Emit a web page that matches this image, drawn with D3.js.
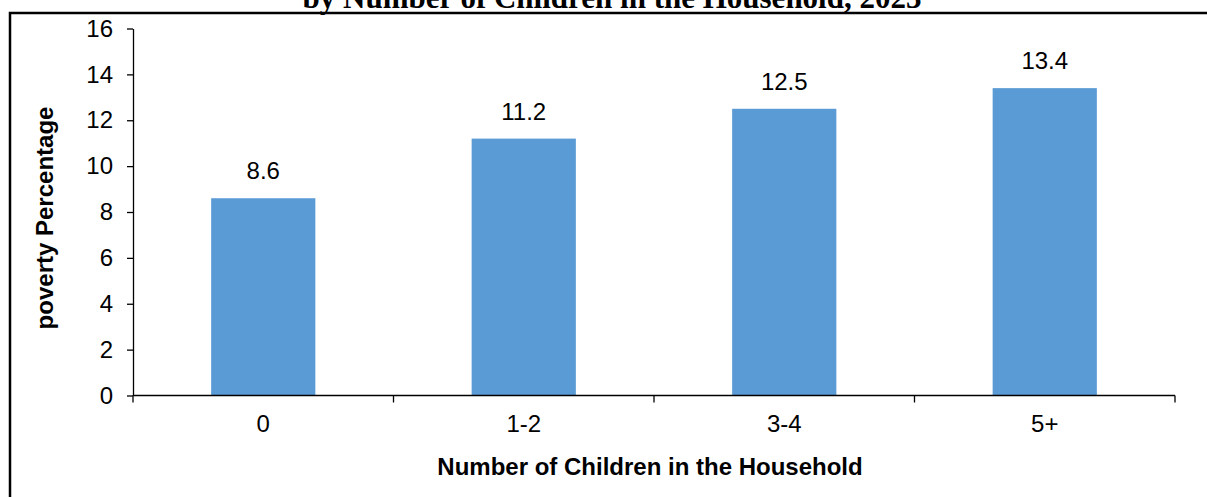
<!DOCTYPE html>
<html>
<head>
<meta charset="utf-8">
<script src="https://cdn.jsdelivr.net/npm/d3@7/dist/d3.min.js"></script>
<style>
  html, body { margin: 0; padding: 0; background: #fff; }
  svg { display: block; }
</style>
</head>
<body>
<svg id="chart" width="1207" height="497"></svg>
<script>
const categories = ["0", "1-2", "3-4", "5+"];
const values = [8.6, 11.2, 12.5, 13.4];
const yTicks = [0, 2, 4, 6, 8, 10, 12, 14, 16];
const title = "by Number of Children in the Household, 2023";
const xTitle = "Number of Children in the Household";
const yTitle = "poverty Percentage";

const svg = d3.select("#chart");
const W = 1207, H = 497;
const plot = { left: 133, right: 1175, top: 28.5, bottom: 395.5 };

// frame border
svg.append("rect")
  .attr("x", 10).attr("y", 13)
  .attr("width", W + 20).attr("height", H + 20)
  .attr("fill", "none").attr("stroke", "#000").attr("stroke-width", 2.5);

// title (cut off at top, as in the reference)
svg.append("text")
  .attr("x", 612).attr("y", 8)
  .attr("text-anchor", "middle")
  .attr("font-family", "'Liberation Serif', 'Times New Roman', serif")
  .attr("font-weight", "bold")
  .attr("font-size", 31)
  .text(title);

const x = d3.scaleBand().domain(categories).range([plot.left, plot.right]).paddingInner(0).paddingOuter(0);
const y = d3.scaleLinear().domain([0, 16]).range([plot.bottom, plot.top]);

const font = "'Liberation Sans', Arial, sans-serif";
const fs = 24;

// bars
const barW = x.bandwidth() * 0.4;
svg.append("g").selectAll("rect").data(values).join("rect")
  .attr("x", (d, i) => x(categories[i]) + (x.bandwidth() - barW) / 2)
  .attr("y", d => y(d))
  .attr("width", barW)
  .attr("height", d => y(0) - y(d))
  .attr("fill", "#5B9BD5");

// value labels
svg.append("g").selectAll("text").data(values).join("text")
  .attr("x", (d, i) => x(categories[i]) + x.bandwidth() / 2)
  .attr("y", d => y(d) - 19)
  .attr("text-anchor", "middle")
  .attr("font-family", font)
  .attr("font-size", fs)
  .attr("fill", "#000")
  .text(d => d.toFixed(1));

// y axis
const yAxis = d3.axisLeft(y).tickValues(yTicks).tickSize(6).tickPadding(14).tickSizeOuter(0);
const gy = svg.append("g").attr("transform", `translate(${plot.left},0)`).call(yAxis);
gy.select(".domain").attr("stroke", "#000").attr("stroke-width", 1.3);
gy.selectAll(".tick line").attr("stroke", "#000").attr("stroke-width", 1.3);
gy.selectAll(".tick text").attr("font-family", font).attr("font-size", fs).attr("fill", "#000");

// x axis: line with ticks at category boundaries
const boundaries = categories.map(c => x(c)).concat([plot.right]);
svg.append("line")
  .attr("x1", plot.left).attr("x2", plot.right)
  .attr("y1", plot.bottom).attr("y2", plot.bottom)
  .attr("stroke", "#000").attr("stroke-width", 1.3);
svg.append("g").selectAll("line").data(boundaries).join("line")
  .attr("x1", d => d).attr("x2", d => d)
  .attr("y1", plot.bottom).attr("y2", plot.bottom + 7)
  .attr("stroke", "#000").attr("stroke-width", 1.3);
svg.append("g").selectAll("text").data(categories).join("text")
  .attr("x", d => x(d) + x.bandwidth() / 2)
  .attr("y", 432)
  .attr("text-anchor", "middle")
  .attr("font-family", font)
  .attr("font-size", fs)
  .attr("fill", "#000")
  .text(d => d);

// axis titles
svg.append("text")
  .attr("x", 650).attr("y", 475)
  .attr("text-anchor", "middle")
  .attr("font-family", font).attr("font-weight", "bold").attr("font-size", fs)
  .text(xTitle);

svg.append("text")
  .attr("transform", "translate(53,218) rotate(-90)")
  .attr("text-anchor", "middle")
  .attr("font-family", font).attr("font-weight", "bold").attr("font-size", fs)
  .text(yTitle);
</script>
</body>
</html>
